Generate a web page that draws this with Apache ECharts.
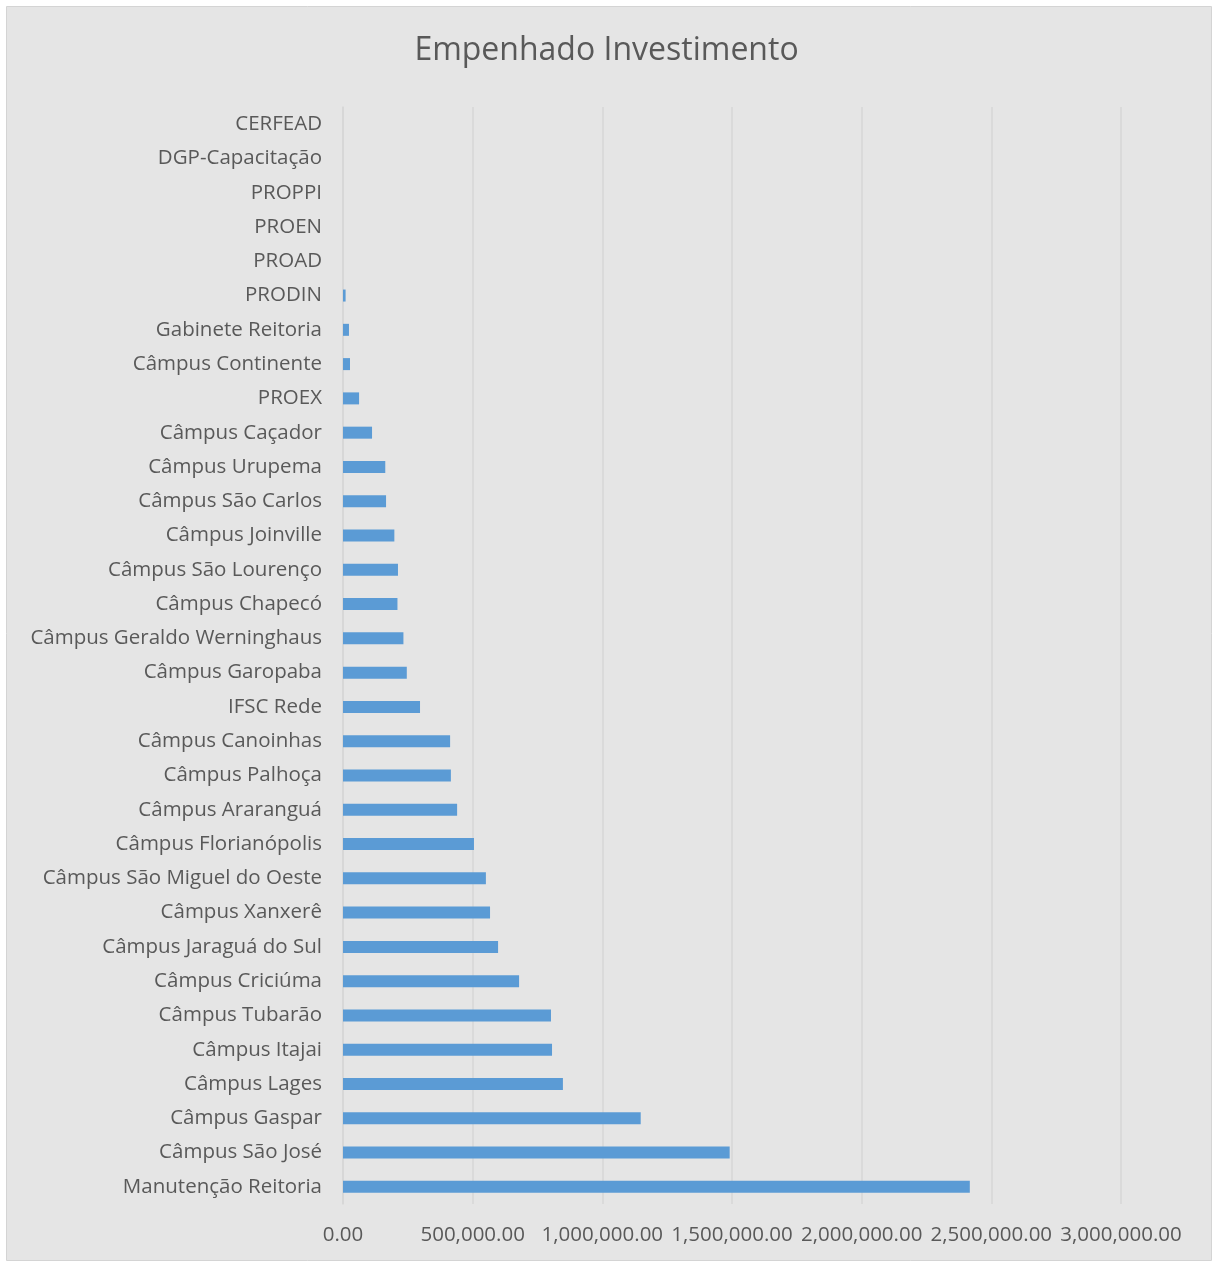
<!DOCTYPE html>
<html>
<head>
<meta charset="utf-8">
<script src="https://cdn.jsdelivr.net/npm/echarts@6/dist/echarts.min.js"></script>
<style>
html,body{margin:0;padding:0;background:#fff;}
#chart{width:1213px;height:1262px;}
</style>
</head>
<body>
<div id="chart"></div>
<script>
// Categories listed bottom-to-top (ECharts category axis starts at the bottom)
const categories = [
  'Manutenção Reitoria','Câmpus São José','Câmpus Gaspar','Câmpus Lages','Câmpus Itajai',
  'Câmpus Tubarão','Câmpus Criciúma','Câmpus Jaraguá do Sul','Câmpus Xanxerê',
  'Câmpus São Miguel do Oeste','Câmpus Florianópolis','Câmpus Araranguá','Câmpus Palhoça',
  'Câmpus Canoinhas','IFSC Rede','Câmpus Garopaba','Câmpus Geraldo Werninghaus',
  'Câmpus Chapecó','Câmpus São Lourenço','Câmpus Joinville','Câmpus São Carlos',
  'Câmpus Urupema','Câmpus Caçador','PROEX','Câmpus Continente','Gabinete Reitoria',
  'PRODIN','PROAD','PROEN','PROPPI','DGP-Capacitação','CERFEAD'
];
const values = [
  2417000,1491000,1148000,848000,806000,
  802000,679000,598000,567000,
  551000,505000,440000,416000,
  413000,297000,246000,233000,
  210000,212000,198000,166000,
  163000,112000,62000,27000,23000,
  10000,0,0,0,0,0
];
const xTicks = { min: 0, max: 3000000, interval: 500000 };

const chart = echarts.init(document.getElementById('chart'));
const fmt = v => v.toLocaleString('en-US',{minimumFractionDigits:2,maximumFractionDigits:2});
chart.setOption({
  backgroundColor: '#ffffff',
  animation: false,
  textStyle: { fontFamily: '"Open Sans", sans-serif' },
  graphic: [{
    type: 'rect', z: -10,
    shape: { x: 6.5, y: 6.5, width: 1205, height: 1254 },
    style: { fill: '#e5e5e5', stroke: '#d4d4d4', lineWidth: 1 }
  }],
  title: {
    text: 'Empenhado Investimento',
    left: 'center', top: 30,
    textStyle: { fontSize: 32, fontWeight: 'normal', color: '#595959', fontFamily: '"Open Sans", sans-serif' }
  },
  grid: { left: 343, right: 92, top: 107, bottom: 58, containLabel: false },
  xAxis: {
    type: 'value', min: xTicks.min, max: xTicks.max, interval: xTicks.interval,
    axisLine: { show: false }, axisTick: { show: false },
    splitLine: { show: true, lineStyle: { color: '#d6d6d6', width: 1.5 } },
    axisLabel: { formatter: fmt, color: '#595959', fontSize: 20.5, margin: 21 }
  },
  yAxis: {
    type: 'category', data: categories,
    axisLine: { show: true, lineStyle: { color: '#d6d6d6', width: 1.5 } },
    axisTick: { show: false },
    axisLabel: { color: '#595959', fontSize: 20.5, margin: 21, interval: 0 }
  },
  series: [{
    type: 'bar', data: values, barWidth: 12,
    itemStyle: { color: '#5b9bd5', borderWidth: 0 }
  }]
});
</script>
</body>
</html>
